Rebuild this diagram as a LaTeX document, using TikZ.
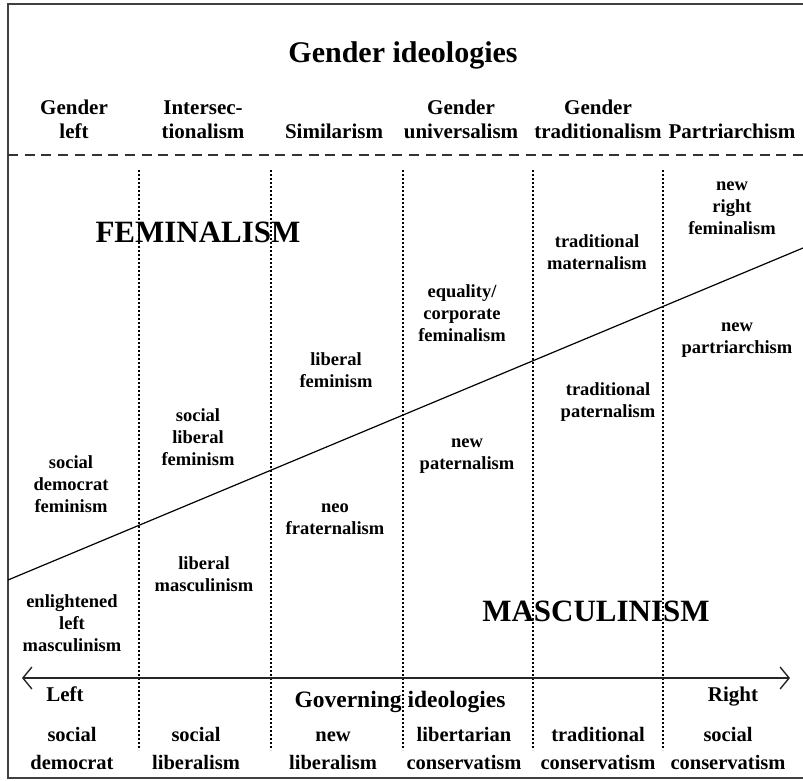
\documentclass[tikz,border=0pt]{standalone}
\usepackage{fontspec}
\setmainfont{Liberation Serif}
\usetikzlibrary{arrows.meta}
\begin{document}
\begin{tikzpicture}[x=1pt,y=-1pt,
  lab/.style={font=\fontsize{18.5}{22}\selectfont\bfseries, align=center, inner sep=0pt},
  hdr/.style={font=\fontsize{21}{24}\selectfont\bfseries, align=center, inner sep=0pt},
  bot/.style={font=\fontsize{20.5}{28}\selectfont\bfseries, align=center, inner sep=0pt},
  big/.style={font=\fontsize{31}{34}\selectfont\bfseries, inner sep=0pt},
  frameline/.style={draw=black!75, line width=1.4pt},
  sepline/.style={draw=black, line width=1.6pt, dash pattern=on 1.6pt off 2.4pt},
  headline/.style={draw=black!80, line width=1.3pt, dash pattern=on 10pt off 6.7pt},
  slant/.style={draw=black, line width=1.2pt},
  axis/.style={draw=black!85, line width=1.4pt, {Straight Barb[length=9pt,width=22pt]}-{Straight Barb[length=9pt,width=22pt]}}
]
\useasboundingbox (0,0) rectangle (803,781);
\fill[white] (0,0) rectangle (803,781);

% frame
\coordinate (fTR) at (803,4);
\coordinate (fTL) at (8,4);
\coordinate (fBL) at (8,778);
\coordinate (fBR) at (803,778);
\draw[frameline] (fTR) -- (fTL) -- (fBL) -- (fBR);

% dashed header separator
\coordinate (hL) at (8,155);
\coordinate (hR) at (803,155);
\draw[headline] (hL) -- (hR);

% dotted column separators
\foreach \i/\x in {1/139,2/271,3/403,4/533,5/663}{
  \coordinate (s\i t) at (\x,170);
  \coordinate (s\i b) at (\x,750);
  \draw[sepline] (s\i t) -- (s\i b);
}

% slanted divider
\coordinate (dL) at (8,580);
\coordinate (dR) at (803,248);
\draw[slant] (dL) -- (dR);

% axis
\coordinate (aL) at (22,678);
\coordinate (aR) at (790,678);
\draw[axis] (aL) -- (aR);

% title and headers
\node[font=\fontsize{30}{34}\selectfont\bfseries, inner sep=0pt, anchor=base] (title) at (403,63) {Gender ideologies};
\node[hdr, anchor=south] (h1) at (74,139) {Gender\\left};
\node[hdr, anchor=south] (h2) at (203,139) {Intersec-\\tionalism};
\node[hdr, anchor=south] (h3) at (334,139) {Similarism};
\node[hdr, anchor=south] (h4) at (461,139) {Gender\\universalism};
\node[hdr, anchor=south] (h5) at (598,139) {Gender\\traditionalism};
\node[hdr, anchor=south] (h6) at (732,139) {Partriarchism};

% big labels
\node[big] (fem) at (198,232) {FEMINALISM};
\node[big] (mas) at (596,611) {MASCULINISM};

% inner labels
\node[lab] (nrf) at (732,208) {new\\right\\feminalism};
\node[lab] (tma) at (597,252) {traditional\\maternalism};
\node[lab] (ecf) at (462,313) {equality/\\corporate\\feminalism};
\node[lab] (npa) at (737,340) {new\\partriarchism};
\node[lab] (lfe) at (336,370) {liberal\\feminism};
\node[lab] (tpa) at (608,402) {traditional\\paternalism};
\node[lab] (slf) at (198,437) {social\\liberal\\feminism};
\node[lab] (npt) at (467,456) {new\\paternalism};
\node[lab] (sdf) at (71,484) {social\\democrat\\feminism};
\node[lab] (nfr) at (335,519) {neo\\fraternalism};
\node[lab] (lma) at (204,574) {liberal\\masculinism};
\node[lab] (elm) at (72,623) {enlightened\\left\\masculinism};

% axis labels
\node[hdr, anchor=base] (left) at (65,701) {Left};
\node[hdr, anchor=base] (right) at (733,701) {Right};
\node[font=\fontsize{23.5}{26}\selectfont\bfseries, inner sep=0pt, anchor=base] (gov) at (400,707) {Governing ideologies};

% bottom labels
\node[bot, anchor=south] (b1) at (72,770) {social\\democrat};
\node[bot, anchor=south] (b2) at (196,770) {social\\liberalism};
\node[bot, anchor=south] (b3) at (333,770) {new\\liberalism};
\node[bot, anchor=south] (b4) at (464,770) {libertarian\\conservatism};
\node[bot, anchor=south] (b5) at (598,770) {traditional\\conservatism};
\node[bot, anchor=south] (b6) at (728,770) {social\\conservatism};
\end{tikzpicture}
\end{document}
